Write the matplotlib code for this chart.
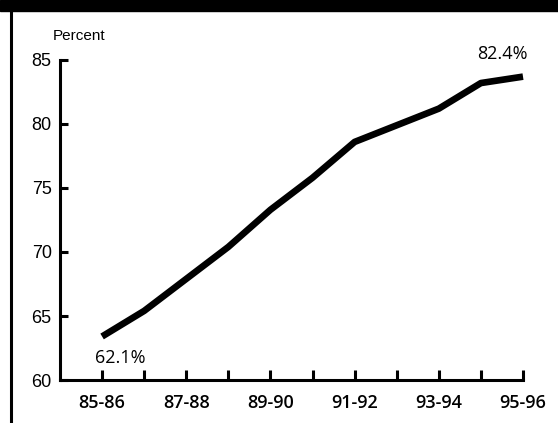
import matplotlib
matplotlib.use("Agg")
import matplotlib.pyplot as plt
from matplotlib.patches import Rectangle
from matplotlib.lines import Line2D

years = ["85-86", "86-87", "87-88", "88-89", "89-90", "90-91",
         "91-92", "92-93", "93-94", "94-95", "95-96"]
percent = [63.4, 65.4, 67.9, 70.4, 73.3, 75.8, 78.6, 79.9, 81.2, 83.2, 83.7]
yticks = [60, 65, 70, 75, 80, 85]

W, H = 558, 423
fig = plt.figure(figsize=(W / 100, H / 100), dpi=100)

# black banner on top and frame line on the left
fig.patches.append(Rectangle((0, 1 - 11 / H), 1, 11 / H, transform=fig.transFigure,
                             color="black", zorder=5))
fig.lines.append(Line2D([11 / W, 11 / W], [0, 1], transform=fig.transFigure,
                        color="black", lw=2.2))

ax = fig.add_axes([60 / W, (H - 380) / H, (523 - 60) / W, (380 - 60) / H])
x = list(range(len(years)))
ax.plot(x, percent, color="black", lw=4.8, solid_capstyle="butt", clip_on=False)

ax.set_xlim(-1, 10)
ax.set_ylim(60, 85)
ax.set_yticks(yticks)
ax.set_xticks(x)
ax.set_xticklabels([y if i % 2 == 0 else "" for i, y in enumerate(years)],
                   fontfamily="Open Sans", fontweight="semibold", fontsize=13)
for lab in ax.get_yticklabels():
    lab.set_fontfamily("Liberation Sans")
    lab.set_fontsize(13)

for side in ["top", "right"]:
    ax.spines[side].set_visible(False)
for side in ["left", "bottom"]:
    ax.spines[side].set_linewidth(2.2)
ax.tick_params(axis="y", direction="in", length=6, width=2.2, pad=6)
ax.tick_params(axis="x", direction="in", length=7, width=2.2, pad=10)

ax.text(0.43, 61.7, "62.1%", ha="center", va="center", fontsize=13,
        fontfamily="Open Sans", clip_on=False)
ax.text(9.52, 85.45, "82.4%", ha="center", va="center", fontsize=13,
        fontfamily="Open Sans", clip_on=False)
fig.text(53 / W, 1 - 40 / H, "Percent", ha="left", va="baseline",
         fontsize=11, fontfamily="Liberation Sans")

fig.savefig("out.png", dpi=100)
